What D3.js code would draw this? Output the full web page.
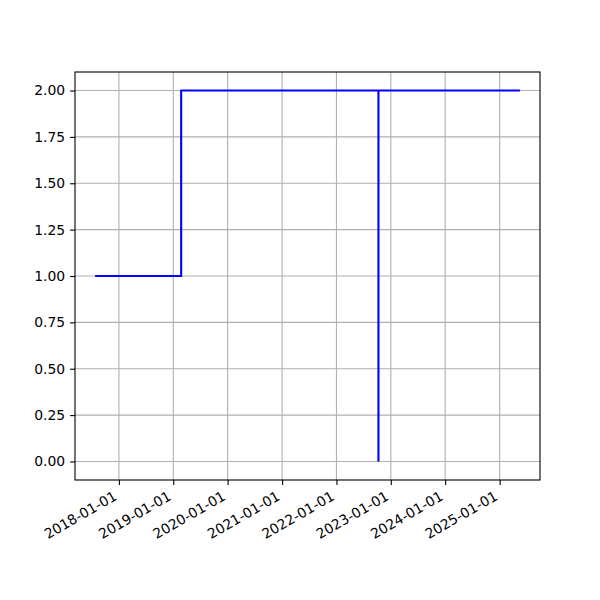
<!DOCTYPE html>
<html>
<head>
<meta charset="utf-8">
<script src="https://cdn.jsdelivr.net/npm/d3@7"></script>
<style>
body { margin: 0; background: #fff; }
svg { display: block; }
text { font-family: "DejaVu Sans", sans-serif; font-size: 13.9px; fill: #000; }
</style>
</head>
<body>
<script>
// Data (step-post)
const dates = ["2017-08-01", "2019-02-23", "2022-10-10", "2022-10-10", "2025-05-10"];
const values = [1, 2, 0, 2, 2];
const yTicks = [0, 0.25, 0.5, 0.75, 1.0, 1.25, 1.5, 1.75, 2.0];
const xTickLabels = ["2018-01-01", "2019-01-01", "2020-01-01", "2021-01-01", "2022-01-01", "2023-01-01", "2024-01-01", "2025-01-01"];

const W = 600, H = 600;
const margin = { left: 75, top: 72, right: 60, bottom: 120 };
const pw = W - margin.left - margin.right;
const ph = H - margin.top - margin.bottom;

const parse = d3.utcParse("%Y-%m-%d");
const data = dates.map((d, i) => ({ x: parse(d), y: values[i] }));

const xExt = d3.extent(data, d => d.x);
const span = xExt[1] - xExt[0];
const x = d3.scaleUtc()
  .domain([new Date(+xExt[0] - 0.05 * span), new Date(+xExt[1] + 0.05 * span)])
  .range([0, pw]);
const y = d3.scaleLinear().domain([-0.1, 2.1]).range([ph, 0]);

const svg = d3.select("body").append("svg").attr("width", W).attr("height", H);
const g = svg.append("g").attr("transform", `translate(${margin.left},${margin.top})`);

const xTickDates = xTickLabels.map(parse);

// grid
g.append("g").selectAll("line").data(xTickDates).join("line")
  .attr("x1", d => x(d)).attr("x2", d => x(d)).attr("y1", 0).attr("y2", ph)
  .attr("stroke", "#b0b0b0").attr("stroke-width", 1.1);
g.append("g").selectAll("line").data(yTicks).join("line")
  .attr("y1", d => y(d)).attr("y2", d => y(d)).attr("x1", 0).attr("x2", pw)
  .attr("stroke", "#b0b0b0").attr("stroke-width", 1.1);

// line
const line = d3.line().x(d => x(d.x)).y(d => y(d.y)).curve(d3.curveStepAfter);
g.append("path").datum(data).attr("d", line)
  .attr("fill", "none").attr("stroke", "#0000ff").attr("stroke-width", 2.1)
  .attr("stroke-linecap", "square");

// frame
g.append("rect").attr("x", 0).attr("y", 0).attr("width", pw).attr("height", ph)
  .attr("fill", "none").attr("stroke", "#000").attr("stroke-width", 1.1);

// y axis
const yAxis = d3.axisLeft(y).tickValues(yTicks).tickFormat(d3.format(".2f")).tickSize(4.9).tickPadding(4.9);
const ya = g.append("g").call(yAxis);
ya.select(".domain").remove();
ya.selectAll("line").attr("stroke", "#000").attr("stroke-width", 1.1);
ya.selectAll("text").attr("font-size", "13.9px").attr("font-family", "DejaVu Sans").attr("fill", "#000");

// x axis
const xAxis = d3.axisBottom(x).tickValues(xTickDates).tickFormat(d3.utcFormat("%Y-%m-%d")).tickSize(4.9).tickPadding(4.9);
const xa = g.append("g").attr("transform", `translate(0,${ph})`).call(xAxis);
xa.select(".domain").remove();
xa.selectAll("line").attr("stroke", "#000").attr("stroke-width", 1.1);
xa.selectAll("text")
  .attr("font-size", "13.9px").attr("font-family", "DejaVu Sans").attr("fill", "#000")
  .attr("text-anchor", "end")
  .attr("dy", null)
  .attr("y", null)
  .attr("transform", "translate(-1.6,19) rotate(-30)");
</script>
</body>
</html>
